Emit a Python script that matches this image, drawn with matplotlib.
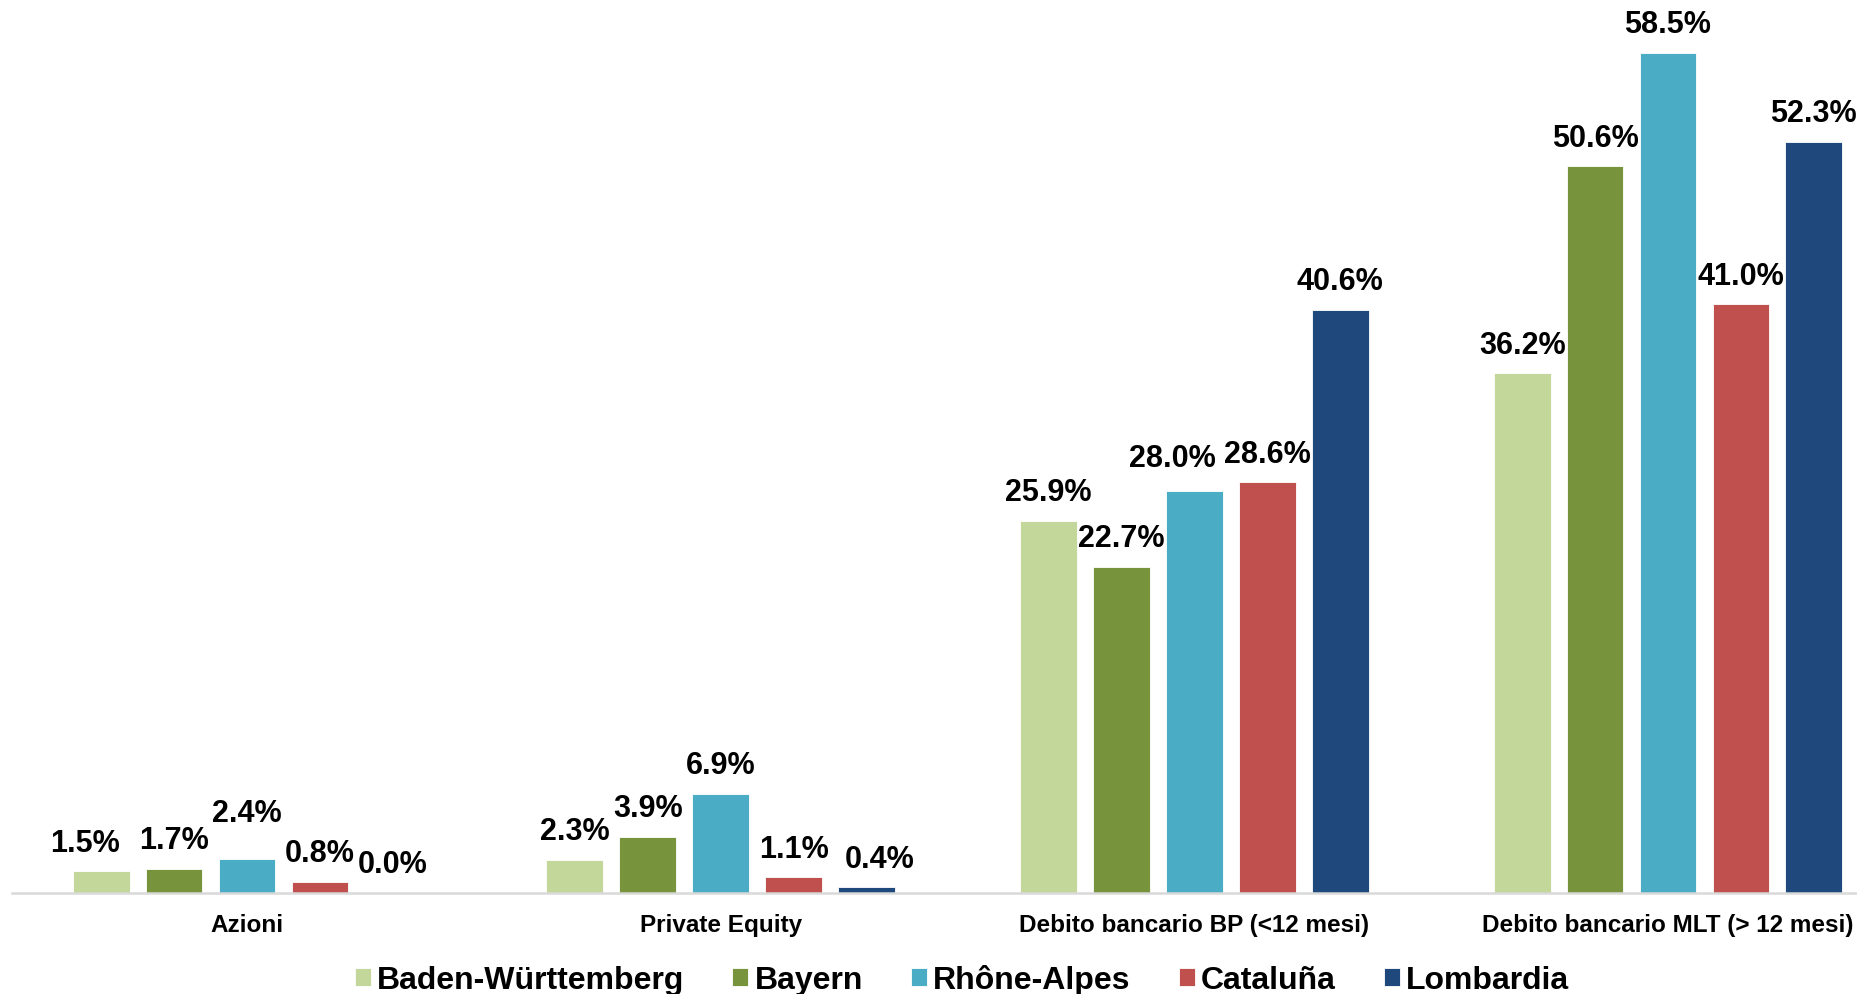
import numpy as np
import matplotlib
matplotlib.use("Agg")
import matplotlib.pyplot as plt

categories = ["Azioni", "Private Equity", "Debito bancario BP (<12 mesi)",
              "Debito bancario MLT (> 12 mesi)"]
regions = ["Baden-Württemberg", "Bayern", "Rhône-Alpes", "Cataluña", "Lombardia"]

baden = [1.5, 2.3, 25.9, 36.2]
bayern = [1.7, 3.9, 22.7, 50.6]
rhone = [2.4, 6.9, 28.0, 58.5]
cataluna = [0.8, 1.1, 28.6, 41.0]
lombardia = [0.0, 0.4, 40.6, 52.3]

colors = ["#C4D79B", "#77933C", "#4BACC6", "#C0504D", "#1F497D"]

# label nudges (points) where the labels were moved to avoid overlaps
nudges = {(0, 0): (-11.5, 0), (2, 0): (0, 12), (2, 2): (-15.5, 3),
          (4, 1): (9.5, 0)}

plt.rcParams["font.family"] = ["Liberation Sans", "DejaVu Sans"]
plt.rcParams["font.weight"] = "bold"

fig = plt.figure(figsize=(18.57, 9.95), dpi=100)
ax = fig.add_axes([0.0065, 0.1015, 0.9935, 0.8985])

series = [baden, bayern, rhone, cataluna, lombardia]
x = np.arange(len(categories))
pitch, width = 0.154, 0.12

for i, (vals, name, col) in enumerate(zip(series, regions, colors)):
    pos = x + (i - 2) * pitch
    bars = ax.bar(pos, vals, width, color=col, label=name,
                  edgecolor="white", linewidth=0.6)
    for j, (b, v) in enumerate(zip(bars, vals)):
        dx, dy = nudges.get((i, j), (0, 0))
        ax.annotate(f"{v:.1f}%", (b.get_x() + b.get_width() / 2, v),
                    xytext=(dx, 20.6 + dy), textcoords="offset points",
                    ha="center", va="center", fontsize=22,
                    fontweight="bold")

ax.set_xlim(-0.496, 3.399)
ax.set_ylim(0, 62.26)
ax.set_xticks(x)
ax.set_xticklabels(categories, fontsize=17.5, fontweight="bold")
ax.tick_params(axis="x", length=0, pad=14.5)
ax.set_yticks([])
for s in ["top", "right", "left"]:
    ax.spines[s].set_visible(False)
ax.spines["bottom"].set_color("#D9D9D9")
ax.spines["bottom"].set_linewidth(1.8)

fig.legend(loc="center", bbox_to_anchor=(0.518, 0.0145), ncol=5,
           frameon=False, handlelength=0.5, handleheight=0.5,
           handletextpad=0.2, columnspacing=1.5,
           prop={"weight": "bold", "size": 23})

fig.savefig("out.png", dpi=100)
